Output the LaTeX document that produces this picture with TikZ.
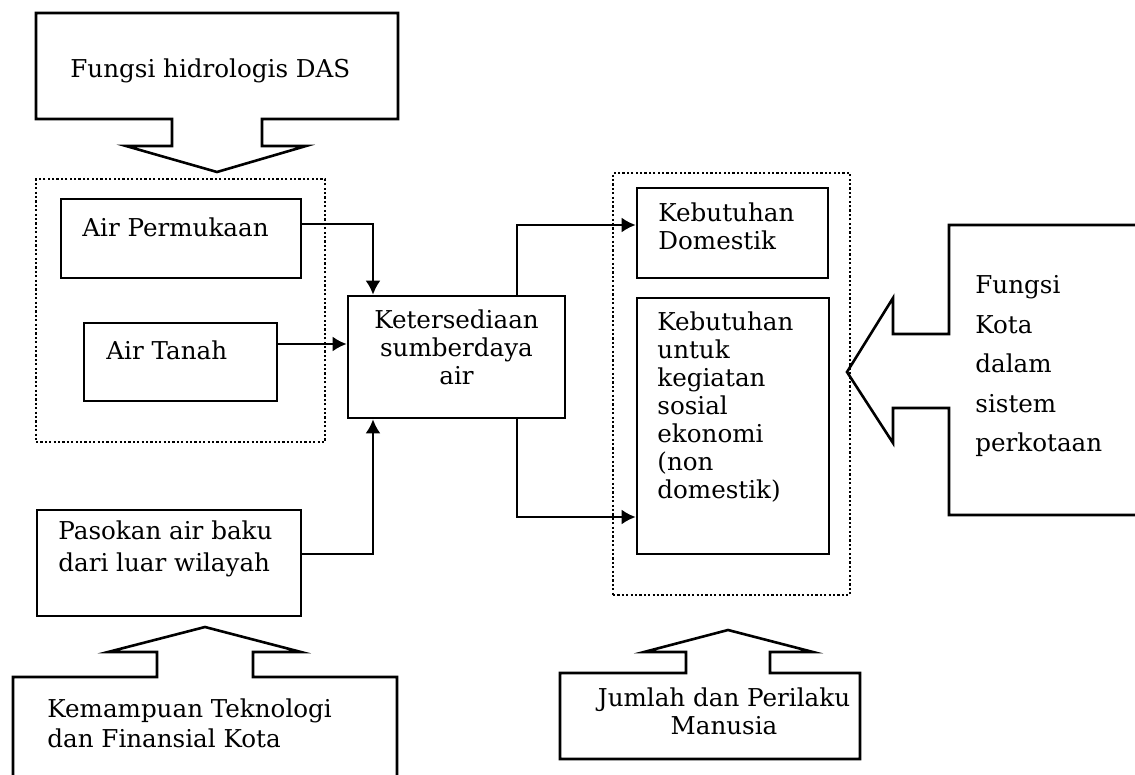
\documentclass[tikz,border=0pt]{standalone}
\usepackage{fontspec}
\setmainfont{DejaVu Serif}
\usetikzlibrary{arrows.meta}

\tikzset{
  box/.style={draw, line width=1.3pt, inner sep=0pt},
  grp/.style={draw, line width=1.1pt, dash pattern=on 1.1pt off 1.1pt, inner sep=0pt},
  txt/.style={inner sep=0pt, font=\fontsize{12.3}{14}\selectfont},
  conn/.style={line width=1.2pt, -{Latex[length=7pt,width=7.5pt]}},
  callout/.style={line width=1.3pt, line join=miter},
}

\begin{document}
\begin{tikzpicture}[x=0.5pt, y=-0.5pt]
\useasboundingbox (0,0) rectangle (1135,775);
% kelompok bertitik
\node[grp, minimum width=144.5pt, minimum height=131.5pt] (sumber) at (180.5,310.5){};
\node[grp, minimum width=118.5pt, minimum height=211pt] (butuh) at (731.5,384){};
% kotak
\node[box, minimum width=120pt, minimum height=39.5pt] (perm) at (181,238.5){};
\node[box, minimum width=96.5pt, minimum height=39pt] (tanah) at (180.5,362){};
\node[box, minimum width=108.5pt, minimum height=61pt] (ket) at (456.5,357){};
\node[box, minimum width=132pt, minimum height=53pt] (pasok) at (169,563){};
\node[box, minimum width=95.5pt, minimum height=45pt] (dom) at (732.5,233){};
\node[box, minimum width=96pt, minimum height=128pt] (nondom) at (733,426){};
% teks
\node[txt, anchor=base west] (permtxt) at (82,237){Air Permukaan};
\node[txt, anchor=base west] (tanahtxt) at (106,359){Air Tanah};
\node[txt, anchor=north, align=center] (kettxt) at (456.5,309){Ketersediaan\\sumberdaya\\air};
\node[txt, anchor=north west, align=left] (pasoktxt) at (58,520){Pasokan air baku\\[2pt]dari luar wilayah};
\node[txt, anchor=north west, align=left] (domtxt) at (658,202){Kebutuhan\\Domestik};
\node[txt, anchor=north west, align=left] (nondomtxt) at (657,311){Kebutuhan\\untuk\\kegiatan\\sosial\\ekonomi\\(non\\domestik)};
% panah callout
\draw[callout] (36,13) -- (398,13) -- (398,119) -- (262,119) -- (262,146) -- (306,146) -- (217,172)
  -- (126,146) -- (172,146) -- (172,119) -- (36,119) -- cycle;
\node[txt, anchor=base west] (dastxt) at (70,78){Fungsi hidrologis DAS};
\draw[callout] (1140,225) -- (949,225) -- (949,334) -- (893,334) -- (893,298) -- (847,372)
  -- (893,443) -- (893,408) -- (949,408) -- (949,515) -- (1140,515);
\node[txt, anchor=north west, align=left, font=\fontsize{12.3}{19.75}\selectfont] (kotatxt) at (975,275){Fungsi\\Kota\\dalam\\sistem\\perkotaan};
\draw[callout] (13,780) -- (13,677) -- (157,677) -- (157,652) -- (108,652) -- (205,627)
  -- (301,652) -- (253,652) -- (253,677) -- (397,677) -- (397,780);
\node[txt, anchor=north west, align=left, font=\fontsize{12.3}{15}\selectfont] (tektxt) at (47,698){Kemampuan Teknologi\\dan Finansial Kota};
\draw[callout] (560,673) -- (686,673) -- (686,652) -- (644,652) -- (728,630) -- (813,652)
  -- (770,652) -- (770,673) -- (860,673) -- (860,759) -- (560,759) -- cycle;
\node[txt, anchor=north, align=center] (mantxt) at (724,687){Jumlah dan Perilaku\\Manusia};
% penghubung
\coordinate (k1) at (373,224);
\coordinate (k2) at (300,344);
\coordinate (k3) at (373,554);
\coordinate (k4) at (517,225);
\coordinate (k5) at (517,517);
\draw[conn] (perm.east |- k1) -- (k1) -- (k1 |- ket.north);
\draw[conn] (tanah.east |- k2) -- (ket.west |- k2);
\draw[conn] (pasok.east |- k3) -- (k3) -- (k3 |- ket.south);
\draw[conn] (k4 |- ket.north) -- (k4) -- (k4 -| dom.west);
\draw[conn] (k5 |- ket.south) -- (k5) -- (k5 -| nondom.west);
\end{tikzpicture}
\end{document}
